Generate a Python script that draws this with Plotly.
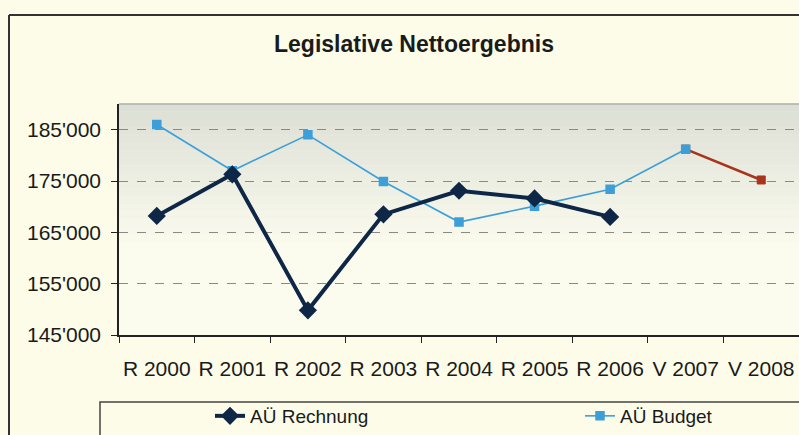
import plotly.graph_objects as go

categories = ["R 2000", "R 2001", "R 2002", "R 2003", "R 2004", "R 2005", "R 2006", "V 2007", "V 2008"]
rechnung = [168200, 176300, 149800, 168500, 173100, 171600, 168000, None, None]
budget = [186000, 177000, 184000, 174900, 167000, 170100, 173400, 181200, None]
voranschlag = [None, None, None, None, None, None, None, 181200, 175200]
y_ticks = [145000, 155000, 165000, 175000, 185000]

NAVY = "#0f2747"
LIGHT = "#3d9fd8"
RED = "#a8341c"
PAPER = "#fcfce9"

fig = go.Figure()

fig.add_trace(go.Scatter(
    x=categories, y=voranschlag, mode="lines+markers", showlegend=False,
    line=dict(color=RED, width=2.5),
    marker=dict(symbol="square", size=8, color=RED, line=dict(width=1, color=RED)),
))
fig.add_trace(go.Scatter(
    x=categories, y=budget, mode="lines+markers", name="AÜ Budget", legend="legend2",
    line=dict(color=LIGHT, width=1.6),
    marker=dict(symbol="square", size=8, color=LIGHT, line=dict(width=1.5, color=LIGHT)),
))
fig.add_trace(go.Scatter(
    x=categories, y=rechnung, mode="lines+markers", name="AÜ Rechnung", legend="legend",
    line=dict(color=NAVY, width=4), marker=dict(symbol="diamond", size=14, color=NAVY),
))

W, H = 799, 435
L, R, T, B = 119, 0, 104, 100
pw, ph = W - L - R, H - T - B


def px(xp):
    return (xp - L) / pw


def py(yp):
    return (H - B - yp) / ph


# vertical gradient background of plot area
shapes = []
top = (0xdc, 0xdf, 0xd5)
bot = (0xfb, 0xfb, 0xee)
n = 30
for i in range(n):
    t0 = i / n
    t1 = (i + 1) / n
    f = min(1.0, (t0 / 0.6)) ** 0.9
    c = tuple(int(top[k] + (bot[k] - top[k]) * f) for k in range(3))
    shapes.append(dict(type="rect", xref="x domain", yref="y domain",
                       x0=0, x1=1, y0=1 - t1, y1=1 - t0 + 0.002,
                       fillcolor="rgb(%d,%d,%d)" % c, line=dict(width=0), layer="below"))
# plot top border
shapes.append(dict(type="line", xref="x domain", yref="y domain", x0=0, x1=1, y0=1, y1=1,
                   line=dict(color="#b0b0a8", width=1.5)))
# outer chart frame
shapes.append(dict(type="line", xref="paper", yref="paper", x0=px(9), x1=px(820), y0=py(15), y1=py(15),
                   line=dict(color="#333", width=2)))
shapes.append(dict(type="line", xref="paper", yref="paper", x0=px(9), x1=px(9), y0=py(15), y1=py(460),
                   line=dict(color="#333", width=2)))
# legend box
shapes.append(dict(type="rect", xref="paper", yref="paper", x0=px(100), x1=px(830), y0=py(402), y1=py(470),
                   line=dict(color="#444", width=1.5), fillcolor="rgba(0,0,0,0)"))

fig.update_layout(
    width=W, height=H,
    margin=dict(l=L, r=R, t=T, b=B, autoexpand=False),
    paper_bgcolor=PAPER, plot_bgcolor=PAPER,
    separators=".'",
    font=dict(family="Liberation Sans, Arial, sans-serif", color="#1a1a1a"),
    title=dict(text="<b>Legislative Nettoergebnis</b>", x=414 / W, xanchor="center",
               y=1 - 44 / H, yanchor="middle", font=dict(size=23, color="#1a1a1a")),
    showlegend=True,
    legend=dict(orientation="h", x=px(210), xanchor="left", y=py(416), yanchor="middle",
                font=dict(size=19, color="#1a1a1a"), bgcolor="rgba(0,0,0,0)"),
    legend2=dict(orientation="h", x=px(580), xanchor="left", y=py(416), yanchor="middle",
                 font=dict(size=19, color="#1a1a1a"), bgcolor="rgba(0,0,0,0)"),
    shapes=shapes,
    xaxis=dict(type="category", categoryorder="array", categoryarray=categories,
               range=[-0.5, 8.5], showgrid=False, showline=True, linecolor="#222", linewidth=1.5,
               ticks="outside", ticklen=6, tickcolor="#222", tickson="boundaries", automargin=False,
               tickangle=0,
               tickfont=dict(size=21, color="#1a1a1a"), ticklabelstandoff=14, zeroline=False),
    yaxis=dict(range=[145000, 190000], tickvals=y_ticks, tickformat=",d", automargin=False,
               showgrid=True, gridcolor="#8a8a82", griddash="dash", gridwidth=1,
               showline=True, linecolor="#222", linewidth=1.5,
               ticks="outside", ticklen=6, tickcolor="#222",
               tickfont=dict(size=21, color="#1a1a1a"), ticklabelstandoff=6, zeroline=False),
)

fig.write_html("out.html", config={"displayModeBar": False},
               post_script="document.body.style.margin='0';document.body.style.background='" + PAPER + "';")
